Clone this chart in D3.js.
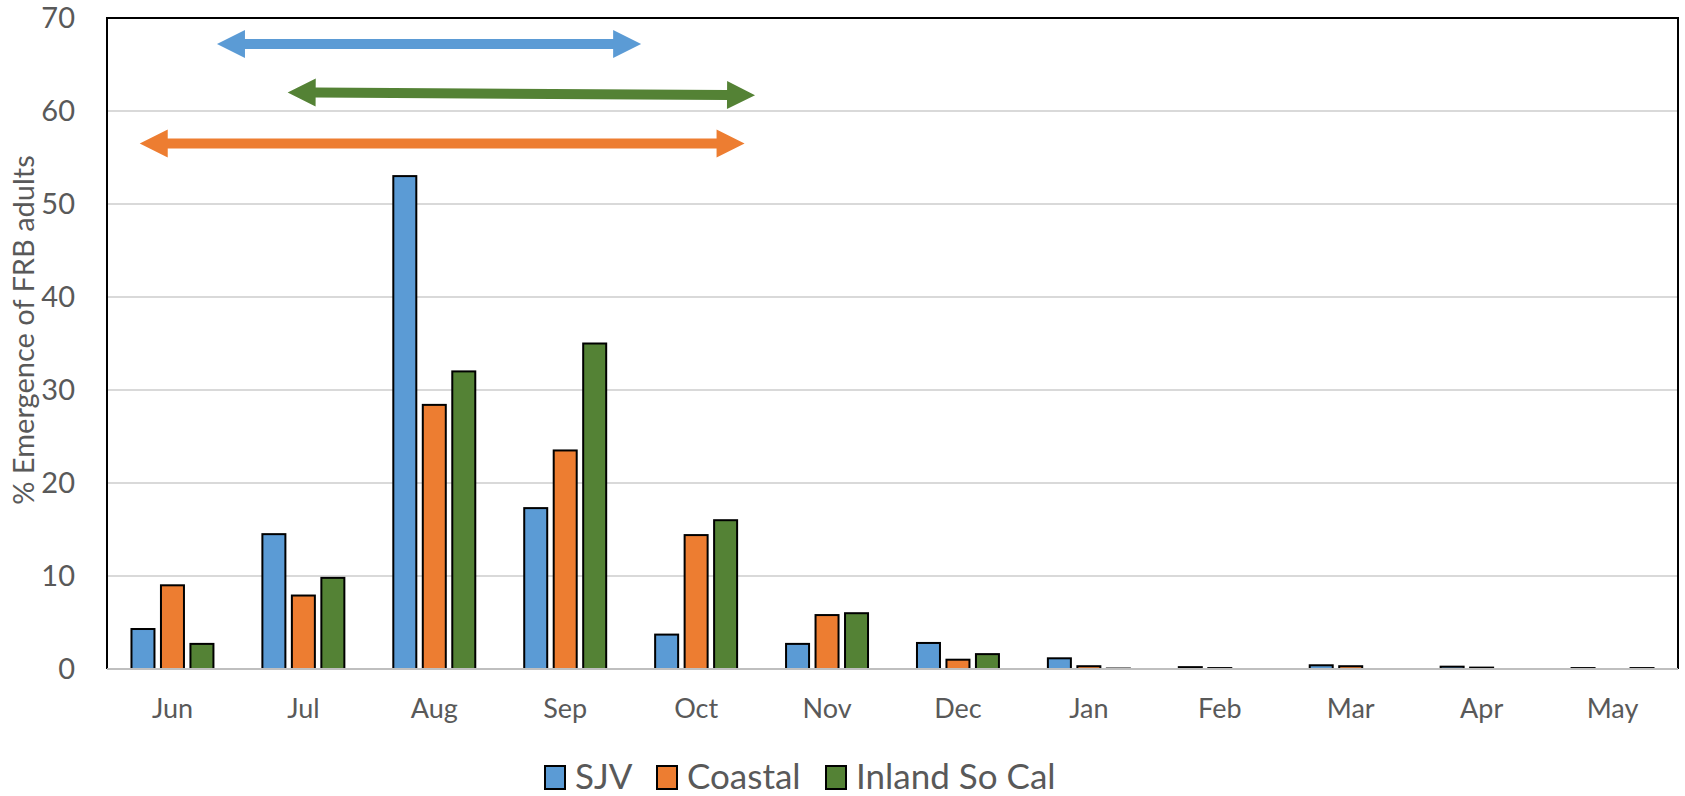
<!DOCTYPE html>
<html lang="en">
  <head>
    <meta charset="UTF-8" />
    <script src="https://d3js.org/d3.v7.min.js"></script>
    <title>FRB emergence</title>
    <style>
      body { margin: 0; background: #fff; font-family: Lato, "Open Sans", sans-serif; }
      .tick text { fill: #595959; }
    </style>
  </head>
  <body>
    <svg width="1685" height="796"></svg>
    <script type="text/javascript">
      // data
      const months = ["Jun", "Jul", "Aug", "Sep", "Oct", "Nov", "Dec", "Jan", "Feb", "Mar", "Apr", "May"];
      const seriesNames = ["SJV", "Coastal", "Inland So Cal"];
      const sjv = [4.3, 14.5, 53.0, 17.3, 3.7, 2.7, 2.8, 1.15, 0.2, 0.4, 0.25, 0.1];
      const coastal = [9.0, 7.9, 28.4, 23.5, 14.4, 5.8, 1.0, 0.3, 0.1, 0.3, 0.15, 0];
      const inland = [2.7, 9.8, 32.0, 35.0, 16.0, 6.0, 1.6, 0.05, 0, 0, 0, 0.1];
      const colors = ["#5B9BD5", "#ED7D31", "#548235"];
      const yTicks = [0, 10, 20, 30, 40, 50, 60, 70];
      // emergence periods (month index units, y in % units)
      const periods = [
        { series: 0, from: 0.84, to: 4.08, y1: 67.2, y2: 67.2 },
        { series: 2, from: 1.38, to: 4.95, y1: 62.0, y2: 61.7 },
        { series: 1, from: 0.25, to: 4.87, y1: 56.5, y2: 56.5 },
      ];

      const values = [sjv, coastal, inland];
      const plotLeft = 107, plotRight = 1678, plotTop = 18, plotBottom = 669;

      const svg = d3.select("svg");

      const x0 = d3.scaleBand().domain(months).range([plotLeft, plotRight]).padding(0);
      const x1 = d3.scaleBand().domain(d3.range(3)).range([0, x0.bandwidth()])
        .paddingInner(0.22).paddingOuter(0.83);
      const y = d3.scaleLinear().domain([0, 70]).range([plotBottom, plotTop]);
      const xm = d3.scaleLinear().domain([0, months.length]).range([plotLeft, plotRight]);

      // gridlines
      svg.append("g")
        .selectAll("line")
        .data(yTicks.filter((d) => d > 0 && d < 70))
        .join("line")
        .attr("x1", plotLeft).attr("x2", plotRight)
        .attr("y1", (d) => y(d)).attr("y2", (d) => y(d))
        .attr("stroke", "#d9d9d9")
        .attr("stroke-width", 2);

      // y axis labels
      const yAxis = d3.axisLeft(y).tickValues(yTicks).tickSize(0).tickPadding(32);
      svg.append("g")
        .attr("transform", `translate(${plotLeft}, 0)`)
        .call(yAxis)
        .call((g) => g.select(".domain").remove())
        .selectAll("text")
        .style("font-size", "29px")
        .style("font-family", "Lato, sans-serif");

      // bars
      const groups = svg.append("g")
        .selectAll("g")
        .data(months)
        .join("g")
        .attr("transform", (d) => `translate(${x0(d)}, 0)`);

      groups.selectAll("rect")
        .data((m, i) => values.map((v, s) => ({ s: s, v: v[i] })).filter((d) => d.v > 0))
        .join("rect")
        .attr("x", (d) => x1(d.s))
        .attr("y", (d) => y(d.v))
        .attr("width", x1.bandwidth())
        .attr("height", (d) => y(0) - y(d.v))
        .attr("fill", (d) => colors[d.s])
        .attr("stroke", "#000")
        .attr("stroke-width", 2);

      // x axis
      const xAxis = d3.axisBottom(x0).tickSize(0).tickPadding(30);
      svg.append("g")
        .attr("transform", `translate(0, ${plotBottom})`)
        .call(xAxis)
        .call((g) => g.select(".domain").remove())
        .selectAll("text")
        .style("font-size", "27px")
        .style("font-family", "Lato, sans-serif");

      // plot frame
      svg.append("path")
        .attr("d", `M${plotLeft},${plotBottom} V${plotTop} H${plotRight} V${plotBottom}`)
        .attr("fill", "none")
        .attr("stroke", "#000")
        .attr("stroke-width", 2);
      svg.append("line")
        .attr("x1", plotLeft).attr("x2", plotRight)
        .attr("y1", plotBottom).attr("y2", plotBottom)
        .attr("stroke", "#bfbfbf")
        .attr("stroke-width", 2);

      // double-headed arrows
      const head = 28, half = 14, shaft = 5;
      periods.forEach((p) => {
        const xa = xm(p.from), xb = xm(p.to), ya = y(p.y1), yb = y(p.y2);
        const ang = Math.atan2(yb - ya, xb - xa);
        const L = Math.hypot(xb - xa, yb - ya);
        const pts = [
          [0, 0], [head, -half], [head, -shaft], [L - head, -shaft], [L - head, -half],
          [L, 0], [L - head, half], [L - head, shaft], [head, shaft], [head, half],
        ];
        svg.append("polygon")
          .attr("points", pts.map((q) => q.join(",")).join(" "))
          .attr("transform", `translate(${xa},${ya}) rotate(${(ang * 180) / Math.PI})`)
          .attr("fill", colors[p.series]);
      });

      // y axis title
      svg.append("text")
        .attr("transform", `translate(34, 330) rotate(-90)`)
        .attr("text-anchor", "middle")
        .style("font-size", "29px")
        .style("fill", "#595959")
        .text("% Emergence of FRB adults");

      // legend
      const legendX = [545, 657, 826];
      const leg = svg.append("g")
        .selectAll("g")
        .data(seriesNames)
        .join("g")
        .attr("transform", (d, i) => `translate(${legendX[i]}, 766)`);
      leg.append("rect")
        .attr("width", 20).attr("height", 23)
        .attr("fill", (d, i) => colors[i])
        .attr("stroke", "#000").attr("stroke-width", 2);
      leg.append("text")
        .attr("x", 30).attr("y", 23)
        .style("font-size", "35px")
        .style("fill", "#595959")
        .text((d) => d);
    </script>
  </body>
</html>
